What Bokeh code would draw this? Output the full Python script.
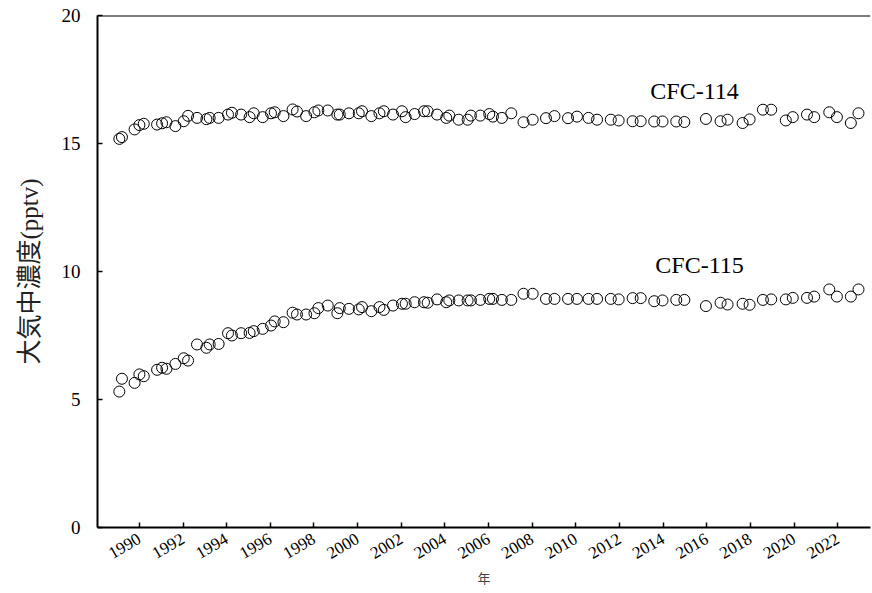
import math
from bokeh.plotting import figure
from bokeh.models import ColumnDataSource, Span, Label, FixedTicker, Range1d
from bokeh.embed import file_html
from bokeh.resources import INLINE

years = [
    1989.08, 1989.2, 1989.78, 1990.0, 1990.2, 1990.81, 1991.04, 1991.24, 1991.65,
    1992.03, 1992.23, 1992.64, 1993.07, 1993.22, 1993.63, 1994.06, 1994.24, 1994.66,
    1995.05, 1995.24, 1995.65, 1996.03, 1996.2, 1996.6, 1997.02, 1997.22, 1997.64,
    1998.02, 1998.2, 1998.63, 1999.07, 1999.18, 1999.6, 2000.05, 2000.2, 2000.63,
    2001.0, 2001.2, 2001.62, 2002.03, 2002.2, 2002.61, 2003.04, 2003.21, 2003.64,
    2004.06, 2004.2, 2004.63, 2005.04, 2005.19, 2005.62, 2006.03, 2006.2, 2006.61,
    2007.04, 2007.6, 2008.02, 2008.63, 2009.02, 2009.64, 2010.05, 2010.58, 2010.97,
    2011.6, 2011.96, 2012.6, 2012.97, 2013.59, 2013.97, 2014.6, 2014.97, 2015.96,
    2016.63, 2016.95, 2017.64, 2017.96, 2018.57, 2018.95, 2019.62, 2019.94, 2020.59,
    2020.92, 2021.61, 2021.96, 2022.6, 2022.95,
]

cfc114 = [
    15.18, 15.25, 15.55, 15.72, 15.77, 15.74, 15.79, 15.83, 15.68,
    15.87, 16.08, 16.0, 15.95, 16.0, 16.0, 16.13, 16.2, 16.13,
    16.03, 16.18, 16.03, 16.18, 16.22, 16.07, 16.33, 16.25, 16.07,
    16.22, 16.29, 16.29, 16.13, 16.13, 16.18, 16.18, 16.26, 16.07,
    16.18, 16.26, 16.13, 16.26, 16.03, 16.15, 16.26, 16.26, 16.13,
    16.0, 16.09, 15.93, 15.93, 16.09, 16.09, 16.15, 16.05, 16.0,
    16.18, 15.83, 15.93, 15.99, 16.07, 15.99, 16.05, 16.0, 15.93,
    15.93, 15.9, 15.87, 15.87, 15.86, 15.86, 15.86, 15.84, 15.96,
    15.87, 15.93, 15.8, 15.94, 16.32, 16.32, 15.9, 16.03, 16.13,
    16.03, 16.22, 16.03, 15.8, 16.18,
]

cfc115 = [
    5.31, 5.81, 5.65, 5.98, 5.91, 6.16, 6.24, 6.2, 6.39,
    6.61, 6.52, 7.15, 7.02, 7.15, 7.17, 7.59, 7.5, 7.59,
    7.6, 7.67, 7.76, 7.89, 8.05, 8.02, 8.39, 8.32, 8.32,
    8.37, 8.57, 8.67, 8.37, 8.57, 8.54, 8.52, 8.61, 8.45,
    8.61, 8.5, 8.67, 8.74, 8.74, 8.8, 8.8, 8.78, 8.91,
    8.8, 8.87, 8.87, 8.87, 8.87, 8.89, 8.93, 8.93, 8.89,
    8.89, 9.13, 9.13, 8.93, 8.93, 8.93, 8.93, 8.93, 8.93,
    8.93, 8.91, 8.96, 8.96, 8.84, 8.87, 8.89, 8.89, 8.65,
    8.78, 8.71, 8.74, 8.7, 8.89, 8.91, 8.91, 8.97, 8.97,
    9.02, 9.3, 9.02, 9.02, 9.3,
]

x_ticks = list(range(1990, 2023, 2))
y_ticks = [0, 5, 10, 15, 20]
series_names = ["CFC-114", "CFC-115"]
x_title = "年"
y_title = "大気中濃度(pptv)"

src = ColumnDataSource(dict(year=years, c114=cfc114, c115=cfc115))

p = figure(width=872, height=593, output_backend="svg", toolbar_location=None,
           x_range=Range1d(1988.08, 2023.5), y_range=Range1d(0, 20),
           min_border_left=97, min_border_right=2, min_border_top=15,
           min_border_bottom=66)

p.background_fill_color = "white"
p.border_fill_color = "white"
p.outline_line_color = None
p.grid.visible = False

for col in ["c114", "c115"]:
    p.scatter(x="year", y=col, source=src, marker="circle", size=11,
              fill_color=None, line_color="black", line_width=1)

# top border line
p.add_layout(Span(location=20, dimension="width", line_color="black", line_width=2))

serif = "'Liberation Serif'"

xa = p.xaxis[0]
xa.ticker = FixedTicker(ticks=x_ticks)
xa.major_label_orientation = math.pi / 6
xa.major_label_text_font = serif
xa.major_label_text_font_size = "17px"
xa.major_label_text_color = "black"
xa.major_label_standoff = 10
xa.major_tick_in = 5
xa.major_tick_out = 0
xa.minor_tick_line_color = None
xa.axis_line_width = 2
xa.axis_line_color = "black"
xa.major_tick_line_width = 1.5
xa.axis_label = x_title
xa.axis_label_text_font = "'Noto Sans CJK JP'"
xa.axis_label_text_font_size = "13px"
xa.axis_label_text_font_style = "normal"
xa.axis_label_text_color = "#444444"
xa.axis_label_standoff = 1

ya = p.yaxis[0]
ya.ticker = FixedTicker(ticks=y_ticks)
ya.major_label_text_font = serif
ya.major_label_text_font_size = "19px"
ya.major_label_text_color = "black"
ya.major_label_standoff = 17
ya.major_tick_in = 5
ya.major_tick_out = 0
ya.minor_tick_line_color = None
ya.axis_line_width = 2
ya.axis_line_color = "black"
ya.major_tick_line_width = 1.5
ya.axis_label = y_title
ya.axis_label_text_font = "'Liberation Serif', 'Noto Sans CJK JP'"
ya.axis_label_text_font_size = "25px"
ya.axis_label_text_font_style = "normal"
ya.axis_label_text_color = "#222222"
ya.axis_label_standoff = 16

p.add_layout(Label(x=2013.41, y=17.04, text=series_names[0], text_font=serif,
                   text_font_size="24px", text_color="black", text_baseline="alphabetic"))
p.add_layout(Label(x=2013.64, y=10.27, text=series_names[1], text_font=serif,
                   text_font_size="24px", text_color="black", text_baseline="alphabetic"))

open("out.html", "w").write(file_html(p, INLINE))
